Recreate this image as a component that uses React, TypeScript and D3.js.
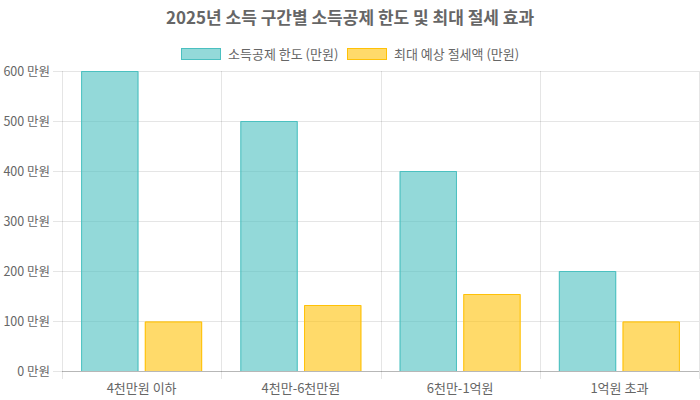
import React, { useEffect, useRef } from 'react';
import * as d3 from 'd3';

const categories = ['4천만원 이하', '4천만-6천만원', '6천만-1억원', '1억원 초과'];
const deductionLimit = [600, 500, 400, 200];
const maxTaxSaving = [99, 132, 154, 99];
const seriesNames = ['소득공제 한도 (만원)', '최대 예상 절세액 (만원)'];
const yTicks = [0, 100, 200, 300, 400, 500, 600];

const WIDTH = 700;
const HEIGHT = 400;
const FONT = '"Noto Sans CJK KR", "Noto Sans", sans-serif';

const fills = ['rgba(75, 192, 192, 0.6)', 'rgba(255, 193, 7, 0.6)'];
const strokes = ['rgb(75, 192, 192)', 'rgb(255, 193, 7)'];

const App: React.FC = () => {
  const svgRef = useRef<SVGSVGElement>(null);

  useEffect(() => {
    if (!svgRef.current) return;
    const svg = d3.select(svgRef.current);
    svg.selectAll('*').remove();

    const margin = { top: 71, right: 1, bottom: 29, left: 62 };
    const chartWidth = WIDTH - margin.left - margin.right;
    const chartHeight = HEIGHT - margin.top - margin.bottom;

    const x = d3.scaleBand<string>()
      .domain(categories)
      .range([0, chartWidth])
      .paddingInner(0)
      .paddingOuter(0);

    // two bars per category: 80% of the band, 90% of each slot
    const xInner = d3.scaleBand<number>()
      .domain([0, 1])
      .range([x.bandwidth() * 0.1, x.bandwidth() * 0.9]);

    const y = d3.scaleLinear().domain([0, 600]).range([chartHeight, 0]);

    const g = svg.append('g')
      .attr('transform', `translate(${margin.left}, ${margin.top})`);

    // Title
    svg.append('text')
      .attr('x', WIDTH / 2)
      .attr('y', 18)
      .attr('dy', '0.35em')
      .style('text-anchor', 'middle')
      .style('font-family', FONT)
      .style('font-size', '17px')
      .style('font-weight', 'bold')
      .style('fill', '#666')
      .text('2025년 소득 구간별 소득공제 한도 및 최대 절세 효과');

    // Legend
    const legendItems = [
      { x: 181, name: seriesNames[0], i: 0 },
      { x: 347, name: seriesNames[1], i: 1 },
    ];
    const legend = svg.append('g').attr('transform', 'translate(0, 48)');
    legendItems.forEach(item => {
      legend.append('rect')
        .attr('x', item.x + 0.5)
        .attr('y', 0.5)
        .attr('width', 39)
        .attr('height', 11)
        .style('fill', fills[item.i])
        .style('stroke', strokes[item.i])
        .style('stroke-width', 1);
      legend.append('text')
        .attr('x', item.x + 47)
        .attr('y', 6)
        .attr('dy', '0.35em')
        .style('font-family', FONT)
        .style('font-size', '13px')
        .style('fill', '#666')
        .text(item.name);
    });

    // Horizontal grid + y ticks
    const yAxis = d3.axisLeft(y)
      .tickValues(yTicks)
      .tickSize(-chartWidth - 9)
      .tickPadding(3)
      .tickFormat(d => `${d} 만원`);

    const yG = g.append('g')
      .attr('transform', 'translate(-9, 0)')
      .call(yAxis);
    yG.select('.domain').remove();
    yG.selectAll('.tick line')
      .attr('x1', 0)
      .attr('x2', chartWidth + 9)
      .style('stroke', 'rgba(0,0,0,0.1)');
    yG.selectAll('.tick text')
      .attr('x', -3)
      .style('font-family', FONT)
      .style('font-size', '12.5px')
      .style('fill', '#666');

    // Vertical grid lines at category boundaries
    const boundaries = categories.map(c => x(c) as number).concat([chartWidth]);
    g.selectAll('.vgrid')
      .data(boundaries)
      .enter().append('line')
      .attr('class', 'vgrid')
      .attr('x1', d => Math.round(d) + 0.5)
      .attr('x2', d => Math.round(d) + 0.5)
      .attr('y1', 0)
      .attr('y2', chartHeight + 8)
      .style('stroke', 'rgba(0,0,0,0.1)');

    // Bars
    const seriesData = [deductionLimit, maxTaxSaving];
    seriesData.forEach((values, si) => {
      const barX = (i: number) =>
        (x(categories[i]) as number) + (xInner(si) as number) + xInner.bandwidth() * 0.05;
      const barW = xInner.bandwidth() * 0.9;

      g.selectAll(`.bar-${si}`)
        .data(values)
        .enter().append('rect')
        .attr('class', `bar-${si}`)
        .attr('x', (_, i) => barX(i))
        .attr('y', d => y(d))
        .attr('width', barW)
        .attr('height', d => chartHeight - y(d))
        .style('fill', fills[si]);

      // border on top and sides, bottom skipped
      g.selectAll(`.bar-border-${si}`)
        .data(values)
        .enter().append('path')
        .attr('class', `bar-border-${si}`)
        .attr('d', (d, i) => {
          const x0 = barX(i) + 0.5;
          const x1 = x0 + barW - 1;
          const yTop = y(d) + 0.5;
          return `M${x0},${chartHeight}V${yTop}H${x1}V${chartHeight}`;
        })
        .style('fill', 'none')
        .style('stroke', strokes[si])
        .style('stroke-width', 1);
    });

    // Bottom axis line
    g.append('line')
      .attr('x1', 0)
      .attr('x2', chartWidth)
      .attr('y1', chartHeight + 0.5)
      .attr('y2', chartHeight + 0.5)
      .style('stroke', 'rgba(0,0,0,0.2)');

    // X labels
    g.selectAll('.xlabel')
      .data(categories)
      .enter().append('text')
      .attr('class', 'xlabel')
      .attr('x', d => (x(d) as number) + x.bandwidth() / 2)
      .attr('y', chartHeight + 17)
      .attr('dy', '0.35em')
      .style('text-anchor', 'middle')
      .style('font-family', FONT)
      .style('font-size', '13px')
      .style('fill', '#666')
      .text(d => d);
  }, []);

  return (
    <svg
      ref={svgRef}
      width={WIDTH}
      height={HEIGHT}
      style={{ position: 'fixed', top: 0, left: 0, background: '#fff' }}
    />
  );
};

export default App;
